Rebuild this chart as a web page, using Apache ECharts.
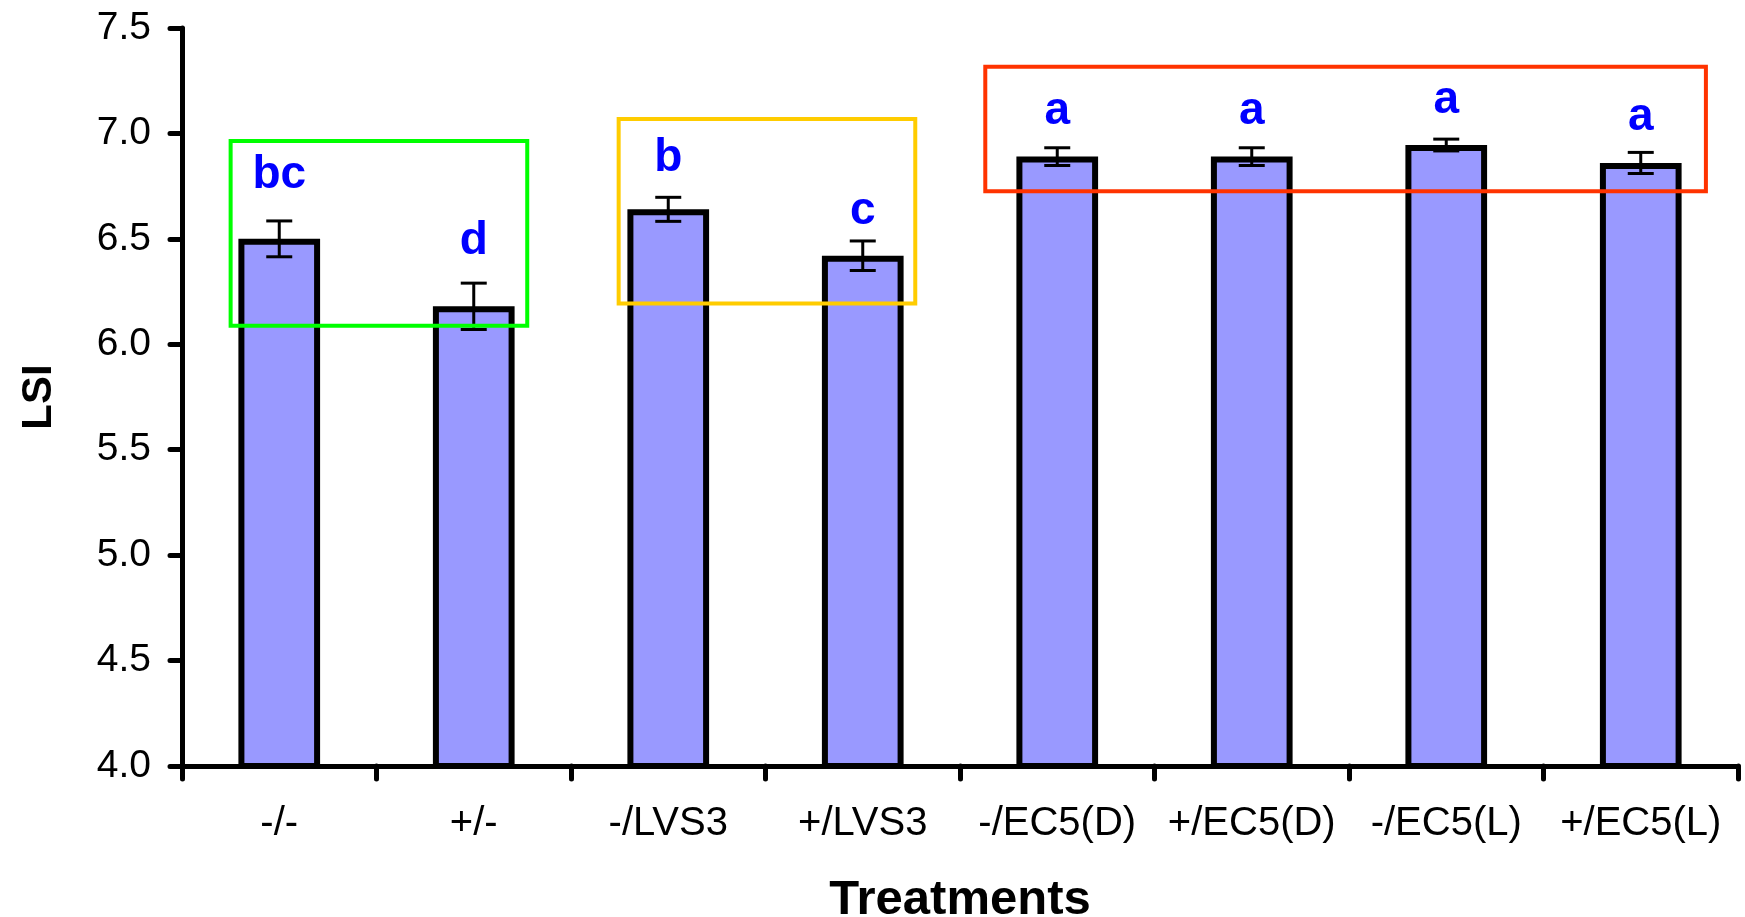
<!DOCTYPE html>
<html>
<head>
<meta charset="utf-8">
<script src="https://cdn.jsdelivr.net/npm/echarts@6/dist/echarts.min.js"></script>
<style>
html,body{margin:0;padding:0;background:#fff;}
#chart{width:1745px;height:917px;}
</style>
</head>
<body>
<div id="chart"></div>
<script>
// ---- data ----
const categories = ['-/-', '+/-', '-/LVS3', '+/LVS3', '-/EC5(D)', '+/EC5(D)', '-/EC5(L)', '+/EC5(L)'];
const lsiValues = [6.50, 6.18, 6.64, 6.42, 6.89, 6.89, 6.945, 6.86];
const lsiErrors = [0.085, 0.11, 0.057, 0.07, 0.042, 0.042, 0.028, 0.05];
const sigLetters = ['bc', 'd', 'b', 'c', 'a', 'a', 'a', 'a'];
const letterLevels = [6.80, 6.49, 6.884, 6.633, 7.107, 7.107, 7.159, 7.078];
const yTicks = { min: 4.0, max: 7.5, interval: 0.5 };
// group boxes: [x start, x end, y bottom, y top] in category-slot units / LSI units
const groupBoxStarts = [0.25, 2.245, 4.13];
const groupBoxEnds = [1.775, 3.77, 7.835];
const groupBoxBottoms = [6.088, 6.193, 6.726];
const groupBoxTops = [6.964, 7.069, 7.316];
const groupBoxColors = ['#00FF00', '#FFCC00', '#FF3300'];

const FONT = "'Liberation Sans', Arial, Helvetica, sans-serif";
const chart = echarts.init(document.getElementById('chart'), null, {renderer: 'canvas'});

const errData = categories.map((c, i) => [i, lsiValues[i] - lsiErrors[i], lsiValues[i] + lsiErrors[i]]);
const letterData = categories.map((c, i) => [i, letterLevels[i], sigLetters[i]]);
const boxData = groupBoxStarts.map((s, i) => [s, groupBoxEnds[i], groupBoxBottoms[i], groupBoxTops[i], i]);

const option = {
  backgroundColor: '#ffffff',
  animation: false,
  grid: { left: 182, right: 7, top: 28, bottom: 151, containLabel: false, outerBoundsMode: 'none' },
  xAxis: [{
    type: 'category',
    data: categories,
    boundaryGap: true,
    name: 'Treatments',
    nameLocation: 'middle',
    nameGap: 110,
    nameTextStyle: { fontFamily: FONT, fontSize: 49, fontWeight: 'bold', color: '#000' },
    axisLine: { show: true, lineStyle: { color: '#000', width: 5, cap: 'round' } },
    axisTick: { show: true, inside: false, length: 13, lineStyle: { color: '#000', width: 5, cap: 'round' } },
    axisLabel: { fontFamily: FONT, fontSize: 40, color: '#000', margin: 38, interval: 0 },
    splitLine: { show: false }
  }, {
    type: 'value',
    min: 0, max: 8,
    show: false
  }],
  yAxis: {
    type: 'value',
    min: yTicks.min, max: yTicks.max, interval: yTicks.interval,
    name: 'LSI',
    nameLocation: 'middle',
    nameGap: 122,
    nameRotate: 90,
    nameTextStyle: { fontFamily: FONT, fontSize: 42, fontWeight: 'bold', color: '#000' },
    axisLine: { show: true, lineStyle: { color: '#000', width: 5, cap: 'round' } },
    axisTick: { show: true, inside: false, length: 12, lineStyle: { color: '#000', width: 5, cap: 'round' } },
    axisLabel: { fontFamily: FONT, fontSize: 39, color: '#000', margin: 31, formatter: v => v.toFixed(1) },
    splitLine: { show: false }
  },
  series: [{
    type: 'bar',
    data: lsiValues,
    barWidth: '42%',
    itemStyle: { color: '#9999FF', borderColor: '#000', borderWidth: 6 },
    z: 2
  }, {
    type: 'custom',
    data: errData,
    z: 4,
    renderItem: function (params, api) {
      const x = api.value(0);
      const lo = api.coord([x, api.value(1)]);
      const hi = api.coord([x, api.value(2)]);
      const hw = 13;
      const st = { stroke: '#000', lineWidth: 3 };
      return { type: 'group', children: [
        { type: 'line', shape: { x1: lo[0], y1: lo[1], x2: hi[0], y2: hi[1] }, style: st },
        { type: 'line', shape: { x1: lo[0] - hw, y1: lo[1], x2: lo[0] + hw, y2: lo[1] }, style: st },
        { type: 'line', shape: { x1: hi[0] - hw, y1: hi[1], x2: hi[0] + hw, y2: hi[1] }, style: st }
      ]};
    }
  }, {
    type: 'custom',
    data: letterData,
    z: 5,
    renderItem: function (params, api) {
      const p = api.coord([api.value(0), api.value(1)]);
      return { type: 'text', x: p[0], y: p[1], style: {
        text: sigLetters[params.dataIndex], fill: '#0000FF', fontFamily: FONT, fontWeight: 'bold', fontSize: 46,
        align: 'center', verticalAlign: 'middle' } };
    }
  }, {
    type: 'custom',
    xAxisIndex: 1,
    data: boxData,
    z: 6,
    renderItem: function (params, api) {
      const a = api.coord([api.value(0), api.value(3)]);
      const b = api.coord([api.value(1), api.value(2)]);
      return { type: 'rect', shape: { x: a[0], y: a[1], width: b[0] - a[0], height: b[1] - a[1] },
        style: { fill: 'none', stroke: groupBoxColors[params.dataIndex], lineWidth: 4 } };
    }
  }]
};
chart.setOption(option);
</script>
</body>
</html>
